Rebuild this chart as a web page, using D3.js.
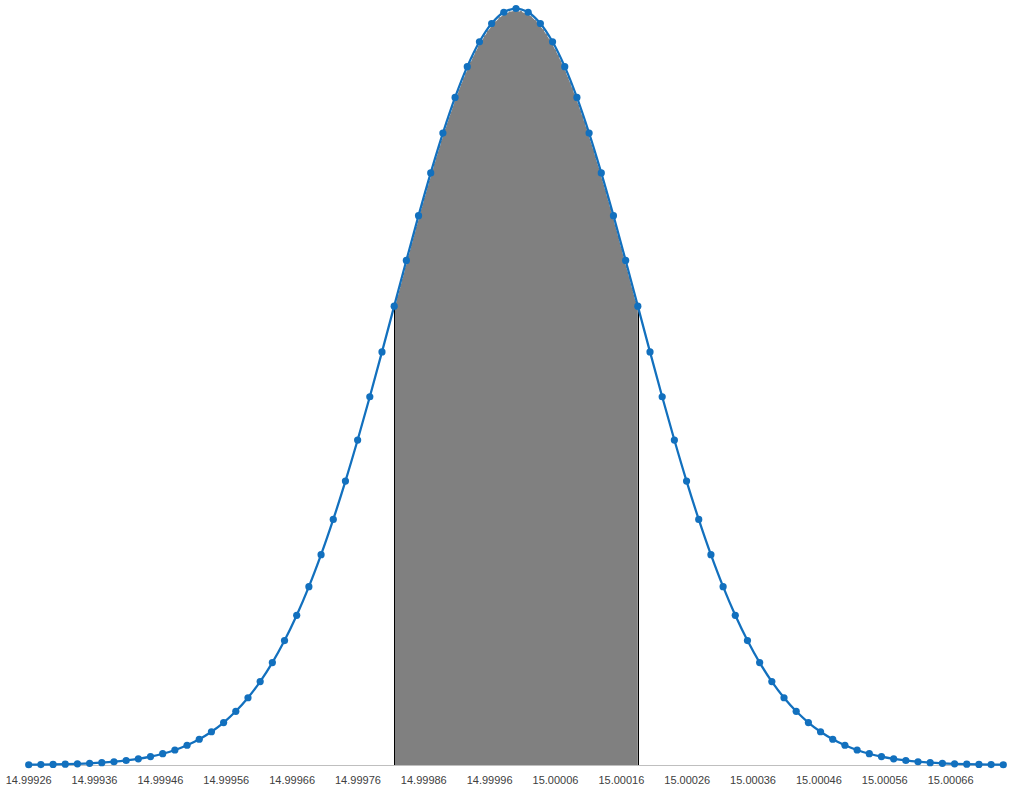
<!DOCTYPE html>
<html>
<head>
<meta charset="utf-8">
<title>Normal distribution</title>
<script src="https://cdn.jsdelivr.net/npm/d3@7"></script>
<style>
  html, body { margin: 0; padding: 0; background: #ffffff; }
  .tickLabel { font-family: "Liberation Sans", Arial, sans-serif; font-size: 11px; fill: #404040; }
</style>
</head>
<body>
<script>
//wrap everything in a self-executing anonymous function
(function all (){
  //measured values (x positions of the points)
  var xValues = [
    14.9992600, 14.9992785, 14.9992970, 14.9993155, 14.9993340, 14.9993525, 14.9993710, 14.9993895,
    14.9994080, 14.9994265, 14.9994450, 14.9994635, 14.9994820, 14.9995005, 14.9995190, 14.9995375,
    14.9995560, 14.9995745, 14.9995930, 14.9996115, 14.9996300, 14.9996485, 14.9996670, 14.9996855,
    14.9997040, 14.9997225, 14.9997410, 14.9997595, 14.9997780, 14.9997965, 14.9998150, 14.9998335,
    14.9998520, 14.9998705, 14.9998890, 14.9999075, 14.9999260, 14.9999445, 14.9999630, 14.9999815,
    15.0000000,
    15.0000185, 15.0000370, 15.0000555, 15.0000740, 15.0000925, 15.0001110, 15.0001295, 15.0001480,
    15.0001665, 15.0001850, 15.0002035, 15.0002220, 15.0002405, 15.0002590, 15.0002775, 15.0002960,
    15.0003145, 15.0003330, 15.0003515, 15.0003700, 15.0003885, 15.0004070, 15.0004255, 15.0004440,
    15.0004625, 15.0004810, 15.0004995, 15.0005180, 15.0005365, 15.0005550, 15.0005735, 15.0005920,
    15.0006105, 15.0006290, 15.0006475, 15.0006660, 15.0006845, 15.0007030, 15.0007215, 15.0007400
  ];
  //relative height of the curve at each point (peak = 1)
  var density = [
    0.00034, 0.00050, 0.00073, 0.00106, 0.00153, 0.00219, 0.00309, 0.00432, 0.00598, 0.00819,
    0.01111, 0.01492, 0.01984, 0.02612, 0.03405, 0.04394, 0.05613, 0.07100, 0.08892, 0.11025,
    0.13534, 0.16447, 0.19790, 0.23575, 0.27804, 0.32465, 0.37531, 0.42956, 0.48675, 0.54607,
    0.60653, 0.66698, 0.72615, 0.78271, 0.83527, 0.88250, 0.92312, 0.95600, 0.98020, 0.99501,
    1.00000,
    0.99501, 0.98020, 0.95600, 0.92312, 0.88250, 0.83527, 0.78271, 0.72615, 0.66698, 0.60653,
    0.54607, 0.48675, 0.42956, 0.37531, 0.32465, 0.27804, 0.23575, 0.19790, 0.16447, 0.13534,
    0.11025, 0.08892, 0.07100, 0.05613, 0.04394, 0.03405, 0.02612, 0.01984, 0.01492, 0.01111,
    0.00819, 0.00598, 0.00432, 0.00309, 0.00219, 0.00153, 0.00106, 0.00073, 0.00050, 0.00034
  ];
  //shaded interval (mean +/- one sigma)
  var shadeBounds = [14.9998150, 15.0001850];
  //x axis tick values
  var tickValues = [
    14.99926, 14.99936, 14.99946, 14.99956, 14.99966, 14.99976, 14.99986, 14.99996,
    15.00006, 15.00016, 15.00026, 15.00036, 15.00046, 15.00056, 15.00066
  ];

  var blue = "#1270BE";

  window.onload = setChart();

  function setChart(){
    //chart frame dimensions
    var width = 1030,
    height = 793;

    var svg = d3.select("body")
      .append("svg")
      .attr("width", width)
      .attr("height", height);

    //scales
    var x = d3.scaleLinear()
      .domain([xValues[0], xValues[xValues.length - 1]])
      .range([28.7, 1003.3]);
    var y = d3.scaleLinear()
      .domain([0, 1])
      .range([765, 8.5]);

    var points = xValues.map(function(v, i){
      return {x: v, y: density[i]};
    });

    //axis line
    svg.append("line")
      .attr("x1", x.range()[0])
      .attr("x2", x.range()[1])
      .attr("y1", y(0) + 0.5)
      .attr("y2", y(0) + 0.5)
      .attr("stroke", "#BFBFBF")
      .attr("stroke-width", 1);

    //tick labels
    svg.selectAll(".tickLabel")
      .data(tickValues)
      .enter()
      .append("text")
      .attr("class", "tickLabel")
      .attr("x", function(d){ return x(d); })
      .attr("y", 784)
      .attr("text-anchor", "middle")
      .text(function(d){ return d.toFixed(5); });

    //shaded area between the bounds
    var eps = 1e-9;
    var shadePts = points.filter(function(p){
      return p.x >= shadeBounds[0] - eps && p.x <= shadeBounds[1] + eps;
    });
    var area = d3.area()
      .x(function(d){ return x(d.x); })
      .y0(y(0))
      .y1(function(d){ return y(d.y) + 1.8; })
      .curve(d3.curveCatmullRom);
    svg.append("path")
      .datum(shadePts)
      .attr("d", area)
      .attr("fill", "#808080");

    //white edge along the top of the shaded area
    var edge = d3.line()
      .x(function(d){ return x(d.x); })
      .y(function(d){ return y(d.y) + 1.8; })
      .curve(d3.curveCatmullRom);
    svg.append("path")
      .datum(shadePts)
      .attr("d", edge)
      .attr("fill", "none")
      .attr("stroke", "#ffffff")
      .attr("stroke-width", 1.2)
      .attr("stroke-dasharray", "4,2");

    //black side lines of the shaded area
    var ends = [shadePts[0], shadePts[shadePts.length - 1]];
    svg.selectAll(".shadeEdge")
      .data(ends)
      .enter()
      .append("line")
      .attr("class", "shadeEdge")
      .attr("x1", function(d){ return Math.round(x(d.x)) + 0.5; })
      .attr("x2", function(d){ return Math.round(x(d.x)) + 0.5; })
      .attr("y1", y(0))
      .attr("y2", function(d){ return y(d.y); })
      .attr("stroke", "#000000")
      .attr("stroke-width", 1);

    //the curve
    var line = d3.line()
      .x(function(d){ return x(d.x); })
      .y(function(d){ return y(d.y); })
      .curve(d3.curveCatmullRom);
    svg.append("path")
      .datum(points)
      .attr("d", line)
      .attr("fill", "none")
      .attr("stroke", blue)
      .attr("stroke-width", 2.25);

    //markers
    svg.selectAll(".marker")
      .data(points)
      .enter()
      .append("circle")
      .attr("class", "marker")
      .attr("cx", function(d){ return x(d.x); })
      .attr("cy", function(d){ return y(d.y); })
      .attr("r", 3.6)
      .attr("fill", blue);
  };
})();
</script>
</body>
</html>
